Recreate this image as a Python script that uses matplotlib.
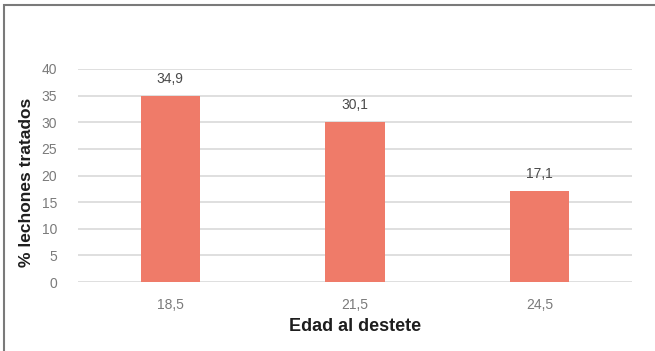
import matplotlib
matplotlib.use("Agg")
import matplotlib.pyplot as plt
from matplotlib.patches import Rectangle

categories = ["18,5", "21,5", "24,5"]
values = [34.9, 30.1, 17.1]
value_labels = ["34,9", "30,1", "17,1"]
y_ticks = [0, 5, 10, 15, 20, 25, 30, 35, 40]

plt.rcParams["font.family"] = ["Liberation Sans", "DejaVu Sans"]

fig = plt.figure(figsize=(6.55, 3.51), dpi=100)
ax = fig.add_axes([78 / 655, 1 - 282 / 351, (632 - 78) / 655, (282 - 69) / 351])

x = range(len(categories))
ax.bar(x, values, width=0.32, color="#EF7B69", zorder=3)

for xi, v, lab in zip(x, values, value_labels):
    ax.annotate(lab, (xi, v), xytext=(0, 7), textcoords="offset points",
                ha="center", va="bottom", fontsize=10, color="#4a4a4a")

ax.set_xlim(-0.5, len(categories) - 0.5)
ax.set_ylim(0, 40)
ax.set_yticks(y_ticks)
ax.set_yticklabels([str(t) for t in y_ticks])
ax.set_xticks(list(x))
ax.set_xticklabels(categories)
ax.tick_params(axis="both", length=0, labelsize=10, colors="#7a7a7a")
ax.tick_params(axis="y", pad=15)
ax.tick_params(axis="x", pad=11.5)
ax.grid(axis="y", color="#d9d9d9", linewidth=1.2, zorder=0)
for s in ax.spines.values():
    s.set_visible(False)

ax.set_xlabel("Edad al destete", fontsize=13, fontweight="bold", color="#1e1e1e")
ax.set_ylabel("% lechones tratados", fontsize=12.5, fontweight="bold", color="#1e1e1e")
ax.xaxis.set_label_coords(0.5, -(318 - 282) / 213)
ax.yaxis.set_label_coords(-(78 - 34) / 554, 0.47)

fig.patches.append(Rectangle((4 / 655, -0.1), 1.2, 1 - 5 / 351 + 0.1,
                             transform=fig.transFigure, fill=False,
                             edgecolor="#7a7a7a", linewidth=1.5))

fig.savefig("out.png", dpi=100)
